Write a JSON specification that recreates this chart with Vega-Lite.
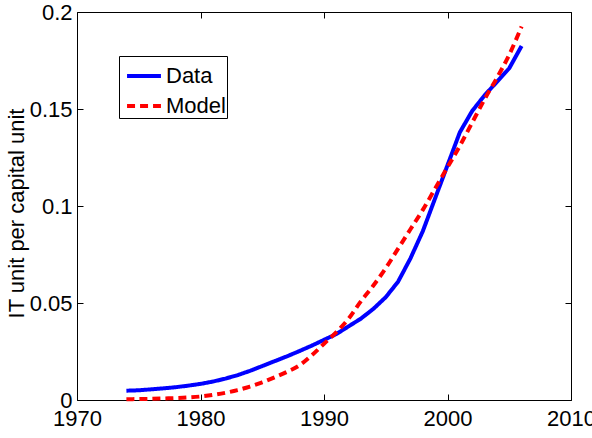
{
  "$schema": "https://vega.github.io/schema/vega-lite/v6.json",
  "width": 494,
  "height": 388,
  "autosize": {"type": "none"},
  "padding": {"left": 77, "top": 12, "right": 21, "bottom": 38},
  "background": "white",
  "config": {
    "view": {"stroke": "black", "strokeWidth": 1},
    "font": "Liberation Sans",
    "axis": {
      "domain": false,
      "grid": false,
      "tickColor": "black",
      "tickSize": -6,
      "labelColor": "black",
      "labelFont": "Liberation Sans",
      "labelFontSize": 22,
      "titleFont": "Liberation Sans",
      "titleFontSize": 22,
      "titleFontWeight": "normal",
      "titleColor": "black"
    }
  },
  "data": {
    "values": [
      {"year": 1974, "value": 0.0048, "series": "Data"},
      {"year": 1975, "value": 0.0050, "series": "Data"},
      {"year": 1976, "value": 0.0055, "series": "Data"},
      {"year": 1977, "value": 0.0060, "series": "Data"},
      {"year": 1978, "value": 0.0066, "series": "Data"},
      {"year": 1979, "value": 0.0074, "series": "Data"},
      {"year": 1980, "value": 0.0083, "series": "Data"},
      {"year": 1981, "value": 0.0095, "series": "Data"},
      {"year": 1982, "value": 0.0110, "series": "Data"},
      {"year": 1983, "value": 0.0128, "series": "Data"},
      {"year": 1984, "value": 0.0150, "series": "Data"},
      {"year": 1985, "value": 0.0175, "series": "Data"},
      {"year": 1986, "value": 0.0200, "series": "Data"},
      {"year": 1987, "value": 0.0225, "series": "Data"},
      {"year": 1988, "value": 0.0252, "series": "Data"},
      {"year": 1989, "value": 0.0280, "series": "Data"},
      {"year": 1990, "value": 0.0310, "series": "Data"},
      {"year": 1991, "value": 0.0340, "series": "Data"},
      {"year": 1992, "value": 0.0380, "series": "Data"},
      {"year": 1993, "value": 0.0420, "series": "Data"},
      {"year": 1994, "value": 0.0470, "series": "Data"},
      {"year": 1995, "value": 0.0530, "series": "Data"},
      {"year": 1996, "value": 0.0610, "series": "Data"},
      {"year": 1997, "value": 0.0730, "series": "Data"},
      {"year": 1998, "value": 0.0870, "series": "Data"},
      {"year": 1999, "value": 0.1040, "series": "Data"},
      {"year": 2000, "value": 0.1210, "series": "Data"},
      {"year": 2001, "value": 0.1380, "series": "Data"},
      {"year": 2002, "value": 0.1490, "series": "Data"},
      {"year": 2003, "value": 0.1570, "series": "Data"},
      {"year": 2004, "value": 0.1640, "series": "Data"},
      {"year": 2005, "value": 0.1710, "series": "Data"},
      {"year": 2006, "value": 0.1825, "series": "Data"},
      {"year": 1974, "value": 0.0004, "series": "Model"},
      {"year": 1975, "value": 0.0005, "series": "Model"},
      {"year": 1976, "value": 0.0006, "series": "Model"},
      {"year": 1977, "value": 0.0008, "series": "Model"},
      {"year": 1978, "value": 0.0010, "series": "Model"},
      {"year": 1979, "value": 0.0013, "series": "Model"},
      {"year": 1980, "value": 0.0018, "series": "Model"},
      {"year": 1981, "value": 0.0026, "series": "Model"},
      {"year": 1982, "value": 0.0037, "series": "Model"},
      {"year": 1983, "value": 0.0051, "series": "Model"},
      {"year": 1984, "value": 0.0069, "series": "Model"},
      {"year": 1985, "value": 0.0091, "series": "Model"},
      {"year": 1986, "value": 0.0117, "series": "Model"},
      {"year": 1987, "value": 0.0145, "series": "Model"},
      {"year": 1988, "value": 0.0178, "series": "Model"},
      {"year": 1989, "value": 0.0230, "series": "Model"},
      {"year": 1990, "value": 0.0290, "series": "Model"},
      {"year": 1991, "value": 0.0350, "series": "Model"},
      {"year": 1992, "value": 0.0420, "series": "Model"},
      {"year": 1993, "value": 0.0510, "series": "Model"},
      {"year": 1994, "value": 0.0590, "series": "Model"},
      {"year": 1995, "value": 0.0680, "series": "Model"},
      {"year": 1996, "value": 0.0780, "series": "Model"},
      {"year": 1997, "value": 0.0880, "series": "Model"},
      {"year": 1998, "value": 0.0980, "series": "Model"},
      {"year": 1999, "value": 0.1090, "series": "Model"},
      {"year": 2000, "value": 0.1200, "series": "Model"},
      {"year": 2001, "value": 0.1310, "series": "Model"},
      {"year": 2002, "value": 0.1430, "series": "Model"},
      {"year": 2003, "value": 0.1550, "series": "Model"},
      {"year": 2004, "value": 0.1660, "series": "Model"},
      {"year": 2005, "value": 0.1780, "series": "Model"},
      {"year": 2006, "value": 0.1925, "series": "Model"}
    ]
  },
  "encoding": {
    "x": {"field": "year", "type": "quantitative", "scale": {"domain": [1970, 2010], "nice": false, "zero": false}},
    "y": {"field": "value", "type": "quantitative", "scale": {"domain": [0, 0.2], "nice": false}},
    "color": {
      "field": "series", "type": "nominal",
      "scale": {"domain": ["Data", "Model"], "range": ["#0000FF", "#FF0000"]},
      "legend": {
        "title": null,
        "orient": "none",
        "legendX": 42,
        "legendY": 44,
        "strokeColor": "black",
        "fillColor": "white",
        "padding": 1,
        "symbolOffset": 5,
        "symbolType": "stroke",
        "symbolSize": 1150,
        "symbolStrokeWidth": 4,
        "labelFont": "Liberation Sans",
        "labelFontSize": 22,
        "labelColor": "black",
        "labelOffset": 3,
        "rowPadding": -3,
        "cornerRadius": 0
      }
    },
    "strokeDash": {
      "field": "series", "type": "nominal",
      "scale": {"domain": ["Data", "Model"], "range": [[1, 0], [8, 5]]},
      "legend": null
    }
  },
  "layer": [
    {
      "transform": [{"filter": "datum.series === 'Data'"}],
      "mark": {"type": "line", "strokeWidth": 4, "interpolate": "linear"},
      "encoding": {
        "x": {"field": "year", "type": "quantitative", "title": null,
              "axis": {"orient": "bottom", "values": [1970, 1980, 1990, 2000, 2010], "format": "d", "labelPadding": 14, "labelFlush": false}},
        "y": {"field": "value", "type": "quantitative", "title": "IT unit per capital unit",
              "axis": {"orient": "left", "values": [0, 0.05, 0.1, 0.15, 0.2], "format": "~g", "labelPadding": 11, "titlePadding": 1, "titleY": 201}}
      }
    },
    {
      "transform": [{"filter": "datum.series === 'Model'"}],
      "mark": {"type": "line", "strokeWidth": 4, "interpolate": "monotone"},
      "encoding": {
        "x": {"field": "year", "type": "quantitative", "title": null,
              "axis": {"orient": "top", "values": [1970, 1980, 1990, 2000, 2010], "labels": false}},
        "y": {"field": "value", "type": "quantitative", "title": null,
              "axis": {"orient": "right", "values": [0, 0.05, 0.1, 0.15, 0.2], "labels": false}}
      }
    }
  ],
  "resolve": {"axis": {"x": "independent", "y": "independent"}}
}
